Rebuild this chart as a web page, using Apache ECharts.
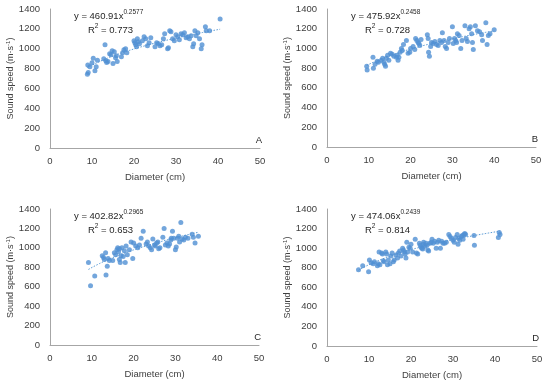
<!DOCTYPE html>
<html><head><meta charset="utf-8">
<script src="https://cdn.jsdelivr.net/npm/echarts@6/dist/echarts.min.js"></script>
<style>html,body{margin:0;padding:0;background:#fff}#c{width:550px;height:385px}</style>
</head><body><div id="c"></div>
<script>
// ---- Data ----
const panelLabels = ["A", "B", "C", "D"];
const xTicks = [0, 10, 20, 30, 40, 50];
const yTicks = [0, 200, 400, 600, 800, 1000, 1200, 1400];
const fitA = [460.91, 0.2577], fitB = [475.92, 0.2458], fitC = [402.82, 0.2965], fitD = [474.06, 0.2439];
const r2 = ["0.773", "0.728", "0.653", "0.814"];

const diamA = [8.9,9.1,9.0,9.5,10.0,10.7,11.0,11.3,10.3,13.1,12.8,13.3,13.5,13.8,14.2,14.5,14.8,15.0,15.3,15.6,15.8,16.0,17.0,17.3,17.6,18.0,18.3,20.0,20.2,20.4,20.6,20.8,21.0,21.3,22.0,22.4,22.8,23.2,23.6,24.0,25.0,25.4,25.8,26.2,26.6,27.0,27.3,28.0,28.2,28.5,28.8,29.2,29.6,30.0,30.4,30.8,31.2,31.6,32.0,32.4,32.8,33.2,33.6,34.0,34.2,34.5,34.8,35.2,35.6,36.0,36.2,37.0,37.2,38.0,40.5];
const speedA = [744,760,835,818,858,778,818,885,905,1040,900,880,860,870,950,940,980,850,970,910,930,870,920,960,990,1000,960,1080,1060,1040,1020,1100,1070,1050,1080,1120,1100,1030,1060,1110,1020,1060,1050,1030,1040,1100,1150,1000,1010,1180,1170,1100,1080,1140,1120,1090,1150,1140,1160,1110,1120,1100,1130,1020,1050,1180,1130,1160,1100,1000,1040,1220,1180,1180,1300];

const diamB = [9.5,9.6,11.0,11.1,11.5,12.0,12.3,13.0,13.3,13.6,13.8,14.0,14.2,14.5,14.8,15.2,15.6,16.0,16.6,16.8,17.0,17.2,17.5,17.8,18.0,18.3,19.0,19.4,19.8,20.0,20.6,21.0,21.2,21.5,21.8,22.0,22.2,22.5,24.0,24.2,24.3,24.5,24.8,25.0,25.4,25.8,26.2,26.6,27.0,27.4,27.6,28.0,28.3,28.6,29.0,29.3,30.0,30.2,30.5,30.8,31.0,31.2,31.6,32.0,32.3,33.0,33.3,33.6,34.0,34.3,34.6,34.8,35.0,35.5,36.0,36.5,37.0,37.2,38.0,38.3,38.6,39.0,40.0];
const speedB = [820,780,910,800,840,870,860,880,900,860,840,820,900,930,880,950,940,920,910,930,880,910,960,1000,980,1040,1080,950,960,1000,1020,990,1100,1080,1060,1050,1030,1090,1140,1100,960,920,1020,1060,1050,1070,1040,1030,1080,1060,1160,1080,1020,1000,1060,1100,1220,1050,1100,1080,1060,1150,1130,1000,1080,1230,1100,1070,1200,1220,1150,1060,990,1230,1180,1170,1140,1080,1260,1040,1130,1150,1190];

const diamC = [9.2,9.7,10.7,12.5,12.8,13.0,13.3,13.4,13.7,13.9,14.2,15.0,15.4,15.7,16.0,16.2,16.4,16.6,16.6,16.8,17.0,17.2,17.5,17.8,18.0,18.2,18.5,19.0,19.4,19.8,20.0,20.5,21.0,21.4,21.8,22.3,23.0,23.3,23.6,24.0,24.3,24.6,25.0,25.2,25.5,25.8,26.0,26.3,27.0,27.3,27.6,28.0,28.3,28.6,28.9,29.0,29.3,29.6,30.0,30.2,30.5,30.8,31.0,31.3,31.6,32.0,32.4,33.0,34.0,34.3,34.7,35.5];
const speedC = [850,610,710,920,900,880,950,720,810,890,870,870,950,930,980,1000,960,990,880,850,920,1000,910,970,850,1020,930,980,1060,890,1050,1020,1000,1030,1100,1170,1040,1060,1020,1000,980,1090,1030,1020,1050,1060,990,1000,1110,1200,1030,1050,1020,1040,1080,1100,1170,1100,980,1010,1100,1120,1060,1260,1090,1080,1110,1100,1140,1110,1050,1120,1170,1100];

const diamD = [7.5,8.5,9.9,10.1,10.5,11.0,11.3,12.0,12.2,12.4,12.6,13.0,13.2,13.4,13.6,14.0,14.2,14.4,14.6,15.0,15.2,15.5,15.8,16.0,16.4,16.8,17.0,17.3,17.6,18.0,18.2,18.4,18.6,18.8,19.0,19.2,19.5,19.8,20.0,20.4,21.0,21.3,21.6,22.0,22.2,22.4,22.6,22.8,23.0,23.0,23.3,23.6,23.8,24.0,24.2,24.5,24.8,25.0,25.3,25.6,26.0,26.3,26.6,27.0,27.3,27.6,28.0,28.4,29.0,29.3,29.6,30.0,30.3,30.6,31.0,31.2,31.4,31.6,32.0,32.2,32.4,32.6,32.8,33.0,35.0,35.1,40.8,41.0,41.2];
const speedD = [780,820,760,880,850,840,860,820,840,960,830,950,940,870,860,960,940,830,880,840,920,950,860,880,930,900,950,970,920,1000,980,960,940,900,1060,960,1010,1000,1040,960,1090,950,940,1050,1030,1010,1000,990,1040,1060,1020,1050,1030,980,970,1050,1060,1090,1050,1070,1000,1060,1080,1000,1070,1050,1050,1060,1140,1120,1100,1080,1060,1110,1140,1040,1100,1080,1120,1130,1090,1140,1150,1140,1130,1030,1110,1160,1140];

// ---- Build ----
const FONT = "'Liberation Sans', Arial, sans-serif";
const blue = '#5b9bd5';
const grids = [
  {left: 50, top: 9, width: 210, height: 139},
  {left: 327, top: 9, width: 209, height: 138},
  {left: 50, top: 209, width: 209, height: 136},
  {left: 327, top: 209, width: 210, height: 137}
];
const diams = [diamA, diamB, diamC, diamD];
const speeds = [speedA, speedB, speedC, speedD];
const fits = [fitA, fitB, fitC, fitD];

function trend(d, f) {
  const lo = Math.min(...d), hi = Math.max(...d), out = [];
  for (let i = 0; i <= 60; i++) { const x = lo + (hi - lo) * i / 60; out.push([x, f[0] * Math.pow(x, f[1])]); }
  return out;
}

const xAxis = [], yAxis = [], series = [], graphic = [];
grids.forEach((g, i) => {
  xAxis.push({
    gridIndex: i, type: 'value', min: xTicks[0], max: xTicks[xTicks.length - 1], interval: 10,
    axisLine: {show: true, lineStyle: {color: '#a6a6a6', width: 1}},
    axisTick: {show: false}, splitLine: {show: false},
    axisLabel: {color: '#404040', fontSize: 9.5, fontFamily: FONT, margin: 8, formatter: v => String(v)},
    name: 'Diameter (cm)', nameLocation: 'middle', nameGap: 24,
    nameTextStyle: {color: '#404040', fontSize: 9.5, fontFamily: FONT}
  });
  yAxis.push({
    gridIndex: i, type: 'value', min: yTicks[0], max: yTicks[yTicks.length - 1], interval: 200,
    axisLine: {show: true, lineStyle: {color: '#a6a6a6', width: 1}},
    axisTick: {show: false}, splitLine: {show: false},
    axisLabel: {color: '#404040', fontSize: 9.5, fontFamily: FONT, margin: 10, formatter: v => String(v)},
    name: '{n|Sound speed (m·s}{s|-1}{n|)}', nameLocation: 'middle', nameGap: 33,
    nameTextStyle: {color: '#404040', fontSize: 9, fontFamily: FONT,
      rich: {n: {fontSize: 9, fontFamily: FONT, color: '#404040'},
             s: {fontSize: 6, fontFamily: FONT, color: '#404040', verticalAlign: 'top', padding: [0, 0, 4, 0]}}}
  });
  series.push({
    type: 'scatter', xAxisIndex: i, yAxisIndex: i, symbol: 'circle', symbolSize: 5,
    itemStyle: {color: '#5090d3'}, data: diams[i].map((d, k) => [d, speeds[i][k]]), z: 3
  });
  series.push({
    type: 'line', xAxisIndex: i, yAxisIndex: i, showSymbol: false, smooth: false,
    lineStyle: {color: blue, width: 1, type: [1.5, 1.5]}, data: trend(diams[i], fits[i]), z: 2, silent: true
  });
  graphic.push({
    type: 'text', left: g.left + 24, top: g.top + 0,
    style: {
      text: '{n|y = ' + fits[i][0].toFixed(2) + 'x}{s|' + fits[i][1].toFixed(4) + '}',
      rich: {n: {fontSize: 9.5, fontFamily: FONT, fill: '#262626', lineHeight: 14},
             s: {fontSize: 6.5, fontFamily: FONT, fill: '#262626', verticalAlign: 'top', lineHeight: 10}}
    }
  });
  graphic.push({
    type: 'text', left: g.left + 38, top: g.top + 14,
    style: {
      text: '{n|R}{s|2}{n| = ' + r2[i] + '}',
      rich: {n: {fontSize: 9.5, fontFamily: FONT, fill: '#262626', lineHeight: 14},
             s: {fontSize: 6.5, fontFamily: FONT, fill: '#262626', verticalAlign: 'top', lineHeight: 10}}
    }
  });
  graphic.push({
    type: 'text', right: 550 - (g.left + g.width) - 2, top: g.top + g.height - 13,
    style: {text: panelLabels[i], fontSize: 9.5, fontFamily: FONT, fill: '#262626'}
  });
});

const chart = echarts.init(document.getElementById('c'), null, {renderer: 'canvas'});
chart.setOption({
  animation: false, backgroundColor: '#fff',
  grid: grids.map(g => Object.assign({containLabel: false}, g)),
  xAxis, yAxis, series, graphic
});
</script></body></html>
